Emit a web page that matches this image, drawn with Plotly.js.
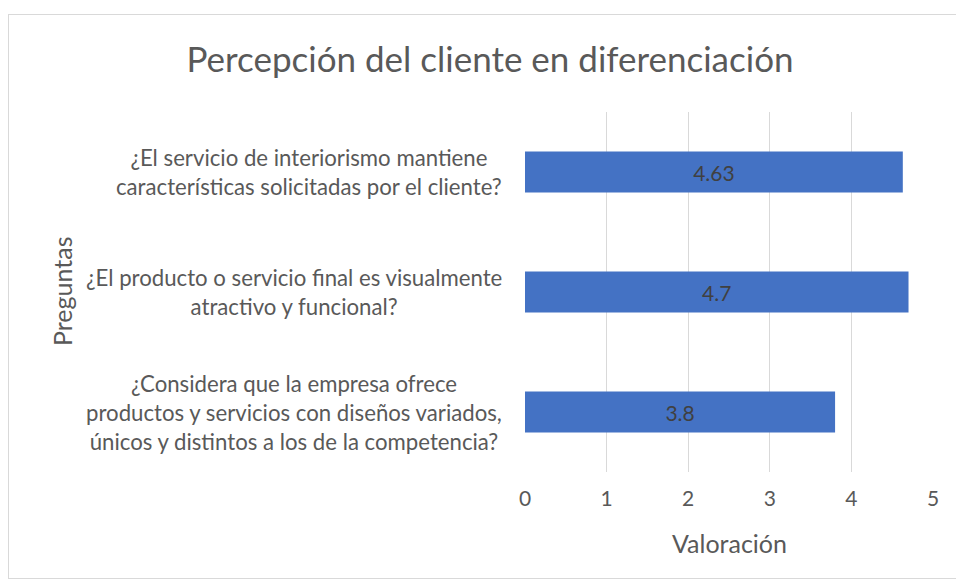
<!DOCTYPE html>
<html>
<head>
<meta charset="utf-8">
<script src="https://cdn.plot.ly/plotly-3.0.1.min.js"></script>
<style>
html,body{margin:0;padding:0;background:#fff;}
#wrap{position:relative;width:956px;height:582px;}
#chart{width:956px;height:582px;}
#frame{position:absolute;left:8px;top:14px;width:960px;height:565px;border:1px solid #d9d9d9;pointer-events:none;box-sizing:border-box;}
</style>
</head>
<body>
<div id="wrap"><div id="chart"></div><div id="frame"></div></div>
<script>
const categories = [
  "¿El servicio de interiorismo mantiene<br>características solicitadas por el cliente?",
  "¿El producto o servicio final es visualmente<br>atractivo y funcional?",
  "¿Considera que la empresa ofrece<br>productos y servicios con diseños variados,<br>únicos y distintos a los de la competencia?"
];
const values = [4.63, 4.7, 3.8];
const valueLabels = ["4.63", "4.7", "3.8"];
const xTicks = [0, 1, 2, 3, 4, 5];

const FONT = "Lato, 'Open Sans', sans-serif";
const GREY = '#595959';
const trace = {
  type: 'bar',
  orientation: 'h',
  x: values,
  y: categories,
  text: valueLabels,
  textposition: 'inside',
  insidetextanchor: 'middle',
  textfont: {family: FONT, size: 21, color: '#404040'},
  marker: {color: '#4472C4'},
  hoverinfo: 'x+y'
};
const catAnnotations = categories.map(c => ({
  text: c, xref: 'paper', yref: 'y', x: (504 - 525) / 408, y: c,
  xanchor: 'right', yanchor: 'middle', align: 'center', showarrow: false,
  font: {family: FONT, size: 22.2, color: GREY}
}));
const layout = {
  width: 956, height: 582,
  margin: {l: 525, r: 23, t: 112, b: 110},
  paper_bgcolor: '#ffffff', plot_bgcolor: '#ffffff',
  bargap: 0.66,
  showlegend: false,
  title: {text: 'Percepción del cliente en diferenciación', x: 490/956, xanchor: 'center', y: 1 - 60/582, yanchor: 'middle',
          font: {family: FONT, size: 35, color: GREY}},
  xaxis: {range: [0, 5], tickvals: xTicks, ticktext: xTicks.map(String),
          showgrid: true, gridcolor: '#d9d9d9', gridwidth: 1.3, zeroline: false, showline: false,
          ticks: '', ticklabelstandoff: 12,
          tickfont: {family: FONT, size: 21, color: GREY}, fixedrange: true},
  yaxis: {autorange: 'reversed', type: 'category', showgrid: false, zeroline: false, showline: false,
          ticks: '', showticklabels: false, fixedrange: true},
  annotations: catAnnotations.concat([
    {text: 'Valoración', xref: 'paper', yref: 'paper', x: 0.5, y: -(543-472)/360, xanchor: 'center', yanchor: 'middle',
     showarrow: false, font: {family: FONT, size: 25, color: GREY}},
    {text: 'Preguntas', xref: 'paper', yref: 'paper', x: (62-525)/408, y: (472-291)/360, xanchor: 'center', yanchor: 'middle',
     textangle: -90, showarrow: false, font: {family: FONT, size: 25, color: GREY}}
  ])
};
Plotly.newPlot('chart', [trace], layout, {displayModeBar: false, staticPlot: true});
</script>
</body>
</html>
